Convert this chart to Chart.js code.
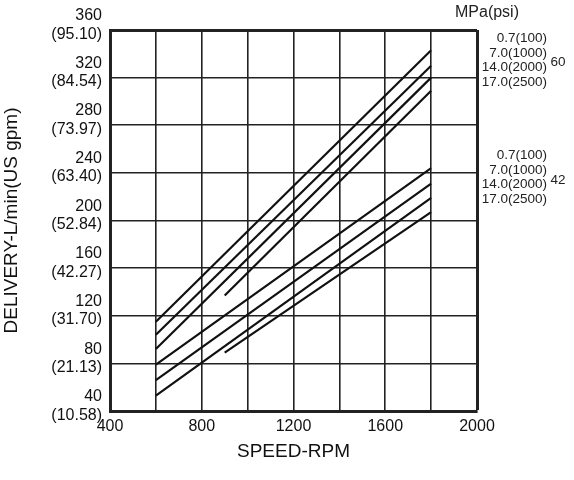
<!DOCTYPE html>
<html>
<head>
<meta charset="utf-8">
<script src="https://cdn.jsdelivr.net/npm/chart.js@4/dist/chart.umd.min.js"></script>
<style>
  html, body { margin: 0; padding: 0; background: #fff; }
  #wrap { width: 574px; height: 480px; position: relative; }
</style>
</head>
<body>
<div id="wrap"><canvas id="pumpChart" width="574" height="480"></canvas></div>
<script>
// Axis ticks
const rpmTicks = [400, 800, 1200, 1600, 2000];
const lpmTicks = [40, 80, 120, 160, 200, 240, 280, 320, 360];
const gpmTicks = ['10.58', '21.13', '31.70', '42.27', '52.84', '63.40', '73.97', '84.54', '95.10'];

// Pressure curves, MPa(psi)
const pressureLabels = ['0.7(100)', '7.0(1000)', '14.0(2000)', '17.0(2500)'];
const startRpm = [600, 600, 600, 900];
const endRpm = [1800, 1800, 1800, 1800];

// pump size 60
const pump60Start = [115, 104, 92, 137];
const pump60End = [343, 330, 320, 309];
// pump size 42
const pump42Start = [79, 66, 53, 89];
const pump42End = [244, 231, 219, 207];

const FONT = '"Liberation Sans", Arial, sans-serif';

function makeSets(starts, ends, size) {
  return pressureLabels.map((p, i) => ({
    label: size + ' ' + p,
    data: [{ x: startRpm[i], y: starts[i] }, { x: endRpm[i], y: ends[i] }],
    borderColor: '#111',
    borderWidth: 2.2,
    pointRadius: 0,
    fill: false,
    tension: 0
  }));
}

// right-hand annotation text
const sideNotes = {
  id: 'sideNotes',
  afterDraw(chart) {
    const ctx = chart.ctx;
    ctx.save();
    ctx.fillStyle = '#222';
    ctx.textBaseline = 'middle';
    ctx.font = '16px ' + FONT;
    ctx.textAlign = 'center';
    ctx.fillText('MPa(psi)', 487, 13);

    ctx.font = '13.5px ' + FONT;
    const groups = [{ size: '60', top: 38.5, mid: 62 }, { size: '42', top: 155.5, mid: 180 }];
    groups.forEach(g => {
      ctx.textAlign = 'right';
      pressureLabels.forEach((p, i) => ctx.fillText(p, 547, g.top + i * 14.6));
      ctx.textAlign = 'center';
      ctx.fillText(g.size, 558, g.mid);
    });
    ctx.restore();
  }
};

new Chart(document.getElementById('pumpChart'), {
  type: 'line',
  data: {
    datasets: [...makeSets(pump60Start, pump60End, '60'), ...makeSets(pump42Start, pump42End, '42')]
  },
  options: {
    responsive: false,
    animation: false,
    layout: { padding: { top: 30, right: 97, left: 0, bottom: 17 } },
    plugins: { legend: { display: false }, tooltip: { enabled: false } },
    scales: {
      x: {
        type: 'linear',
        min: 400,
        max: 2000,
        afterBuildTicks: s => {
          const t = [];
          for (let v = 400; v <= 2000; v += 200) t.push({ value: v });
          s.ticks = t;
        },
        ticks: {
          autoSkip: false,
          maxRotation: 0,
          padding: 6,
          color: '#111',
          font: { family: FONT, size: 16 },
          callback: v => rpmTicks.includes(v) ? String(v) : ''
        },
        grid: {
          color: '#222',
          lineWidth: c => (c.tick && c.tick.value === 2000) ? 3 : 1.6,
          drawTicks: false
        },
        border: { color: '#222', width: 3 },
        title: {
          display: true,
          text: 'SPEED-RPM',
          color: '#111',
          font: { family: FONT, size: 19 },
          padding: { top: 12, bottom: 0 }
        },
        afterFit: s => { s.height = 52; s.paddingLeft = 0; s.paddingRight = 0; }
      },
      y: {
        min: 40,
        max: 360,
        afterBuildTicks: s => { s.ticks = lpmTicks.map(v => ({ value: v })); },
        ticks: {
          autoSkip: false,
          padding: 8,
          labelOffset: -5,
          color: '#111',
          font: { family: FONT, size: 16, lineHeight: 1.15 },
          callback: v => {
            const i = lpmTicks.indexOf(v);
            return i < 0 ? '' : [String(v), '(' + gpmTicks[i] + ')'];
          }
        },
        grid: {
          color: '#222',
          lineWidth: c => (c.tick && c.tick.value === 360) ? 3 : 1.6,
          drawTicks: false
        },
        border: { color: '#222', width: 3 },
        title: {
          display: true,
          text: 'DELIVERY-L/min(US gpm)',
          color: '#111',
          font: { family: FONT, size: 19 },
          padding: { top: 0, bottom: 6 }
        },
        afterFit: s => { s.width = 110; s.paddingTop = 0; s.paddingBottom = 0; }
      }
    }
  },
  plugins: [sideNotes]
});
</script>
</body>
</html>
